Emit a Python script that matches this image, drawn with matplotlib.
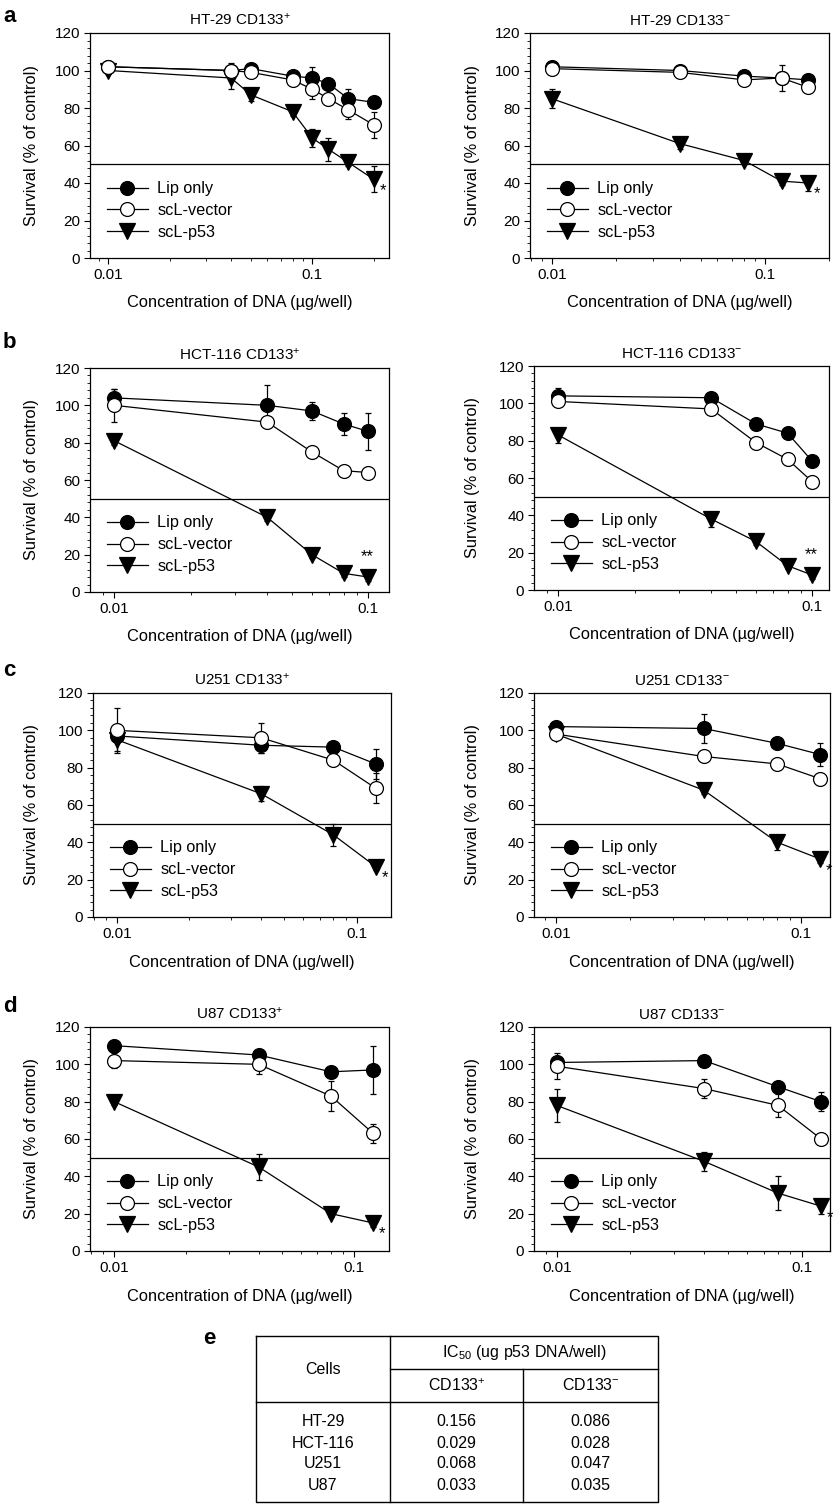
import numpy as np
import matplotlib
matplotlib.use("Agg")
import matplotlib.pyplot as plt
from matplotlib.lines import Line2D
from matplotlib.ticker import FixedLocator, LogLocator, NullFormatter, MultipleLocator

plt.rcParams['font.family'] = ['Liberation Sans', 'DejaVu Sans']
plt.rcParams['mathtext.fontset'] = 'custom'
plt.rcParams['mathtext.rm'] = 'Liberation Sans'
plt.rcParams['mathtext.it'] = 'Liberation Sans:italic'
plt.rcParams['mathtext.bf'] = 'Liberation Sans:bold'

W, H = 833, 1504

# ---------------- data ----------------
series_names = ["Lip only", "scL-vector", "scL-p53"]

a_plus_title = "HT-29 CD133$^{+}$"
a_plus_x = [0.01, 0.04, 0.05, 0.08, 0.1, 0.12, 0.15, 0.2]
a_plus_lip = [102, 100, 101, 97, 96, 93, 85, 83]
a_plus_lip_err = [2, 3, 2, 2, 6, 3, 5, 3]
a_plus_vec = [102, 100, 99, 95, 90, 85, 79, 71]
a_plus_vec_err = [2, 4, 2, 2, 5, 2, 5, 7]
a_plus_p53 = [100, 96, 87, 78, 64, 58, 51, 42]
a_plus_p53_err = [2, 6, 3, 2, 5, 6, 2, 7]

a_minus_title = "HT-29 CD133$^{-}$"
a_minus_x = [0.01, 0.04, 0.08, 0.12, 0.16]
a_minus_lip = [102, 100, 97, 96, 95]
a_minus_lip_err = [2, 2, 2, 2, 2]
a_minus_vec = [101, 99, 95, 96, 91]
a_minus_vec_err = [2, 2, 2, 7, 2]
a_minus_p53 = [85, 61, 52, 41, 40]
a_minus_p53_err = [5, 3, 2, 2, 4]

b_plus_title = "HCT-116 CD133$^{+}$"
b_plus_x = [0.01, 0.04, 0.06, 0.08, 0.1]
b_plus_lip = [104, 100, 97, 90, 86]
b_plus_lip_err = [5, 11, 5, 6, 10]
b_plus_vec = [100, 91, 75, 65, 64]
b_plus_vec_err = [9, 2, 2, 2, 2]
b_plus_p53 = [81, 40, 20, 10, 8]
b_plus_p53_err = [2, 2, 2, 2, 2]

b_minus_title = "HCT-116 CD133$^{-}$"
b_minus_x = [0.01, 0.04, 0.06, 0.08, 0.1]
b_minus_lip = [104, 103, 89, 84, 69]
b_minus_lip_err = [4, 2, 2, 2, 2]
b_minus_vec = [101, 97, 79, 70, 58]
b_minus_vec_err = [2, 2, 2, 2, 2]
b_minus_p53 = [83, 38, 26, 13, 8]
b_minus_p53_err = [4, 4, 2, 2, 2]

c_plus_title = "U251 CD133$^{+}$"
c_plus_x = [0.01, 0.04, 0.08, 0.12]
c_plus_lip = [97, 92, 91, 82]
c_plus_lip_err = [2, 4, 2, 8]
c_plus_vec = [100, 96, 84, 69]
c_plus_vec_err = [12, 8, 2, 8]
c_plus_p53 = [95, 66, 44, 27]
c_plus_p53_err = [6, 4, 6, 2]

c_minus_title = "U251 CD133$^{-}$"
c_minus_x = [0.01, 0.04, 0.08, 0.12]
c_minus_lip = [102, 101, 93, 87]
c_minus_lip_err = [2, 8, 2, 6]
c_minus_vec = [98, 86, 82, 74]
c_minus_vec_err = [2, 2, 2, 2]
c_minus_p53 = [98, 68, 40, 31]
c_minus_p53_err = [2, 2, 4, 2]

d_plus_title = "U87 CD133$^{+}$"
d_plus_x = [0.01, 0.04, 0.08, 0.12]
d_plus_lip = [110, 105, 96, 97]
d_plus_lip_err = [2, 2, 2, 13]
d_plus_vec = [102, 100, 83, 63]
d_plus_vec_err = [4, 5, 8, 5]
d_plus_p53 = [80, 45, 20, 15]
d_plus_p53_err = [2, 7, 2, 2]

d_minus_title = "U87 CD133$^{-}$"
d_minus_x = [0.01, 0.04, 0.08, 0.12]
d_minus_lip = [101, 102, 88, 80]
d_minus_lip_err = [3, 2, 2, 5]
d_minus_vec = [99, 87, 78, 60]
d_minus_vec_err = [7, 5, 6, 2]
d_minus_p53 = [78, 48, 31, 24]
d_minus_p53_err = [9, 5, 9, 4]

significance = ["*", "*", "**", "**", "*", "*", "*", "*"]

x_ticks = [0.01, 0.1]
x_tick_labels = ["0.01", "0.1"]
y_ticks = [0, 20, 40, 60, 80, 100, 120]
threshold = 50

table_cells = ["HT-29", "HCT-116", "U251", "U87"]
table_plus = ["0.156", "0.029", "0.068", "0.033"]
table_minus = ["0.086", "0.028", "0.047", "0.035"]

# ---------------- layout ----------------
panels = [
    dict(box=(90, 389, 33, 258), xl=(-2.0897, -0.624), title=a_plus_title, x=a_plus_x,
         lip=(a_plus_lip, a_plus_lip_err), vec=(a_plus_vec, a_plus_vec_err), p53=(a_plus_p53, a_plus_p53_err)),
    dict(box=(530, 829, 33, 258), xl=(-2.102, -0.698), title=a_minus_title, x=a_minus_x,
         lip=(a_minus_lip, a_minus_lip_err), vec=(a_minus_vec, a_minus_vec_err), p53=(a_minus_p53, a_minus_p53_err)),
    dict(box=(90, 389, 368, 592), xl=(-2.0957, -0.9185), title=b_plus_title, x=b_plus_x,
         lip=(b_plus_lip, b_plus_lip_err), vec=(b_plus_vec, b_plus_vec_err), p53=(b_plus_p53, b_plus_p53_err)),
    dict(box=(534, 829, 366, 590), xl=(-2.0957, -0.934), title=b_minus_title, x=b_minus_x,
         lip=(b_minus_lip, b_minus_lip_err), vec=(b_minus_vec, b_minus_vec_err), p53=(b_minus_p53, b_minus_p53_err)),
    dict(box=(93, 391, 693, 917), xl=(-2.099, -0.857), title=c_plus_title, x=c_plus_x,
         lip=(c_plus_lip, c_plus_lip_err), vec=(c_plus_vec, c_plus_vec_err), p53=(c_plus_p53, c_plus_p53_err)),
    dict(box=(534, 830, 693, 917), xl=(-2.0898, -0.882), title=c_minus_title, x=c_minus_x,
         lip=(c_minus_lip, c_minus_lip_err), vec=(c_minus_vec, c_minus_vec_err), p53=(c_minus_p53, c_minus_p53_err)),
    dict(box=(90, 389, 1027, 1251), xl=(-2.101, -0.855), title=d_plus_title, x=d_plus_x,
         lip=(d_plus_lip, d_plus_lip_err), vec=(d_plus_vec, d_plus_vec_err), p53=(d_plus_p53, d_plus_p53_err)),
    dict(box=(534, 830, 1027, 1251), xl=(-2.0927, -0.8845), title=d_minus_title, x=d_minus_x,
         lip=(d_minus_lip, d_minus_lip_err), vec=(d_minus_vec, d_minus_vec_err), p53=(d_minus_p53, d_minus_p53_err)),
]

fig = plt.figure(figsize=(W / 100, H / 100), dpi=100)

styles = [
    dict(marker="o", mfc="black", mec="black", ms=10),
    dict(marker="o", mfc="white", mec="black", ms=10),
    dict(marker="v", mfc="black", mec="black", ms=11),
]
zorders = [4, 5, 3]

for i, p in enumerate(panels):
    l, r, t, b = p["box"]
    ax = fig.add_axes([l / W, 1 - b / H, (r - l) / W, (b - t) / H])
    x = p["x"]
    handles = []
    for name, key, st, z in zip(series_names, ["lip", "vec", "p53"], styles, zorders):
        yv, ye = p[key]
        ax.errorbar(x, yv, yerr=ye, color="black", lw=0.9, elinewidth=0.9,
                    capsize=2.5, capthick=0.9, mew=0.9, zorder=z, **st)
        handles.append(Line2D([], [], color="black", lw=0.9, mew=0.9, label=name, **st))
    ax.axhline(threshold, color="black", lw=0.9, zorder=1)
    ax.set_xscale("log")
    ax.set_xlim(10 ** p["xl"][0], 10 ** p["xl"][1])
    ax.set_ylim(0, 120)
    ax.xaxis.set_major_locator(FixedLocator(x_ticks))
    ax.set_xticklabels(x_tick_labels)
    ax.xaxis.set_minor_locator(LogLocator(base=10, subs=np.arange(2, 10)))
    ax.xaxis.set_minor_formatter(NullFormatter())
    ax.yaxis.set_major_locator(FixedLocator(y_ticks))
    ax.yaxis.set_minor_locator(MultipleLocator(4))
    ax.tick_params(which="major", direction="out", length=4, width=0.8, labelsize=11, pad=3)
    ax.tick_params(which="minor", direction="out", length=2, width=0.6)
    for s in ax.spines.values():
        s.set_linewidth(0.9)
    ax.set_title(p["title"], fontsize=11, pad=6)
    ax.set_xlabel("Concentration of DNA (µg/well)", fontsize=11.8)
    ax.xaxis.set_label_coords(0.5, -45 / (b - t))
    ax.xaxis.label.set_va("center")
    ax.set_ylabel("Survival (% of control)", fontsize=11.8)
    ylx = 32 if l < 200 else 472
    ax.yaxis.set_label_coords(-(l - ylx) / (r - l), 0.5)
    ax.yaxis.label.set_va("center")
    ax.legend(handles=handles, loc="lower left", bbox_to_anchor=(17 / (r - l), 0.08),
              frameon=False, fontsize=11.7, handlelength=2.5, handletextpad=0.6,
              labelspacing=0.42, borderpad=0, borderaxespad=0)
    sig = significance[i]
    lx, ly = x[-1], p["p53"][0][-1]
    if sig == "**":
        ax.annotate(sig, (lx, ly), xytext=(-1, 9), textcoords="offset points",
                    ha="center", va="bottom", fontsize=12)
    else:
        ax.annotate(sig, (lx, ly), xytext=(4, -8), textcoords="offset points",
                    ha="left", va="center", fontsize=12, annotation_clip=False)

# panel letters
for letter, (px, py) in zip(["a", "b", "c", "d", "e"],
                            [(3, 17), (3, 343), (3, 670), (3, 1007), (203, 1338)]):
    fig.text(px / W, 1 - py / H, letter, fontsize=16, fontweight="bold", ha="left", va="center")

# ---------------- table e ----------------
tax = fig.add_axes([0, 0, 1, 1])
tax.set_xlim(0, W)
tax.set_ylim(H, 0)
tax.axis("off")
L, R, T, B = 256, 658, 1336, 1502
c1, c2 = 390, 523
h1, h2 = 1369, 1402
lw = 1.0
tax.plot([L, R, R, L, L], [T, T, B, B, T], color="black", lw=lw)
tax.plot([c1, c1], [T, B], color="black", lw=lw)
tax.plot([c2, c2], [h1, B], color="black", lw=lw)
tax.plot([c1, R], [h1, h1], color="black", lw=lw)
tax.plot([L, R], [h2, h2], color="black", lw=lw)
fs = 11.5
tax.text((L + c1) / 2, (T + h2) / 2, "Cells", ha="center", va="center", fontsize=fs)
tax.text((c1 + R) / 2, (T + h1) / 2, "IC$_{50}$ (ug p53 DNA/well)", ha="center", va="center", fontsize=fs)
tax.text((c1 + c2) / 2, (h1 + h2) / 2, "CD133$^{+}$", ha="center", va="center", fontsize=fs)
tax.text((c2 + R) / 2, (h1 + h2) / 2, "CD133$^{-}$", ha="center", va="center", fontsize=fs)
row_y = [1421, 1443, 1464, 1486]
for yy, cname, vp, vm in zip(row_y, table_cells, table_plus, table_minus):
    tax.text((L + c1) / 2, yy, cname, ha="center", va="center", fontsize=fs)
    tax.text((c1 + c2) / 2, yy, vp, ha="center", va="center", fontsize=fs)
    tax.text((c2 + R) / 2, yy, vm, ha="center", va="center", fontsize=fs)

fig.savefig("out.png", dpi=100)
